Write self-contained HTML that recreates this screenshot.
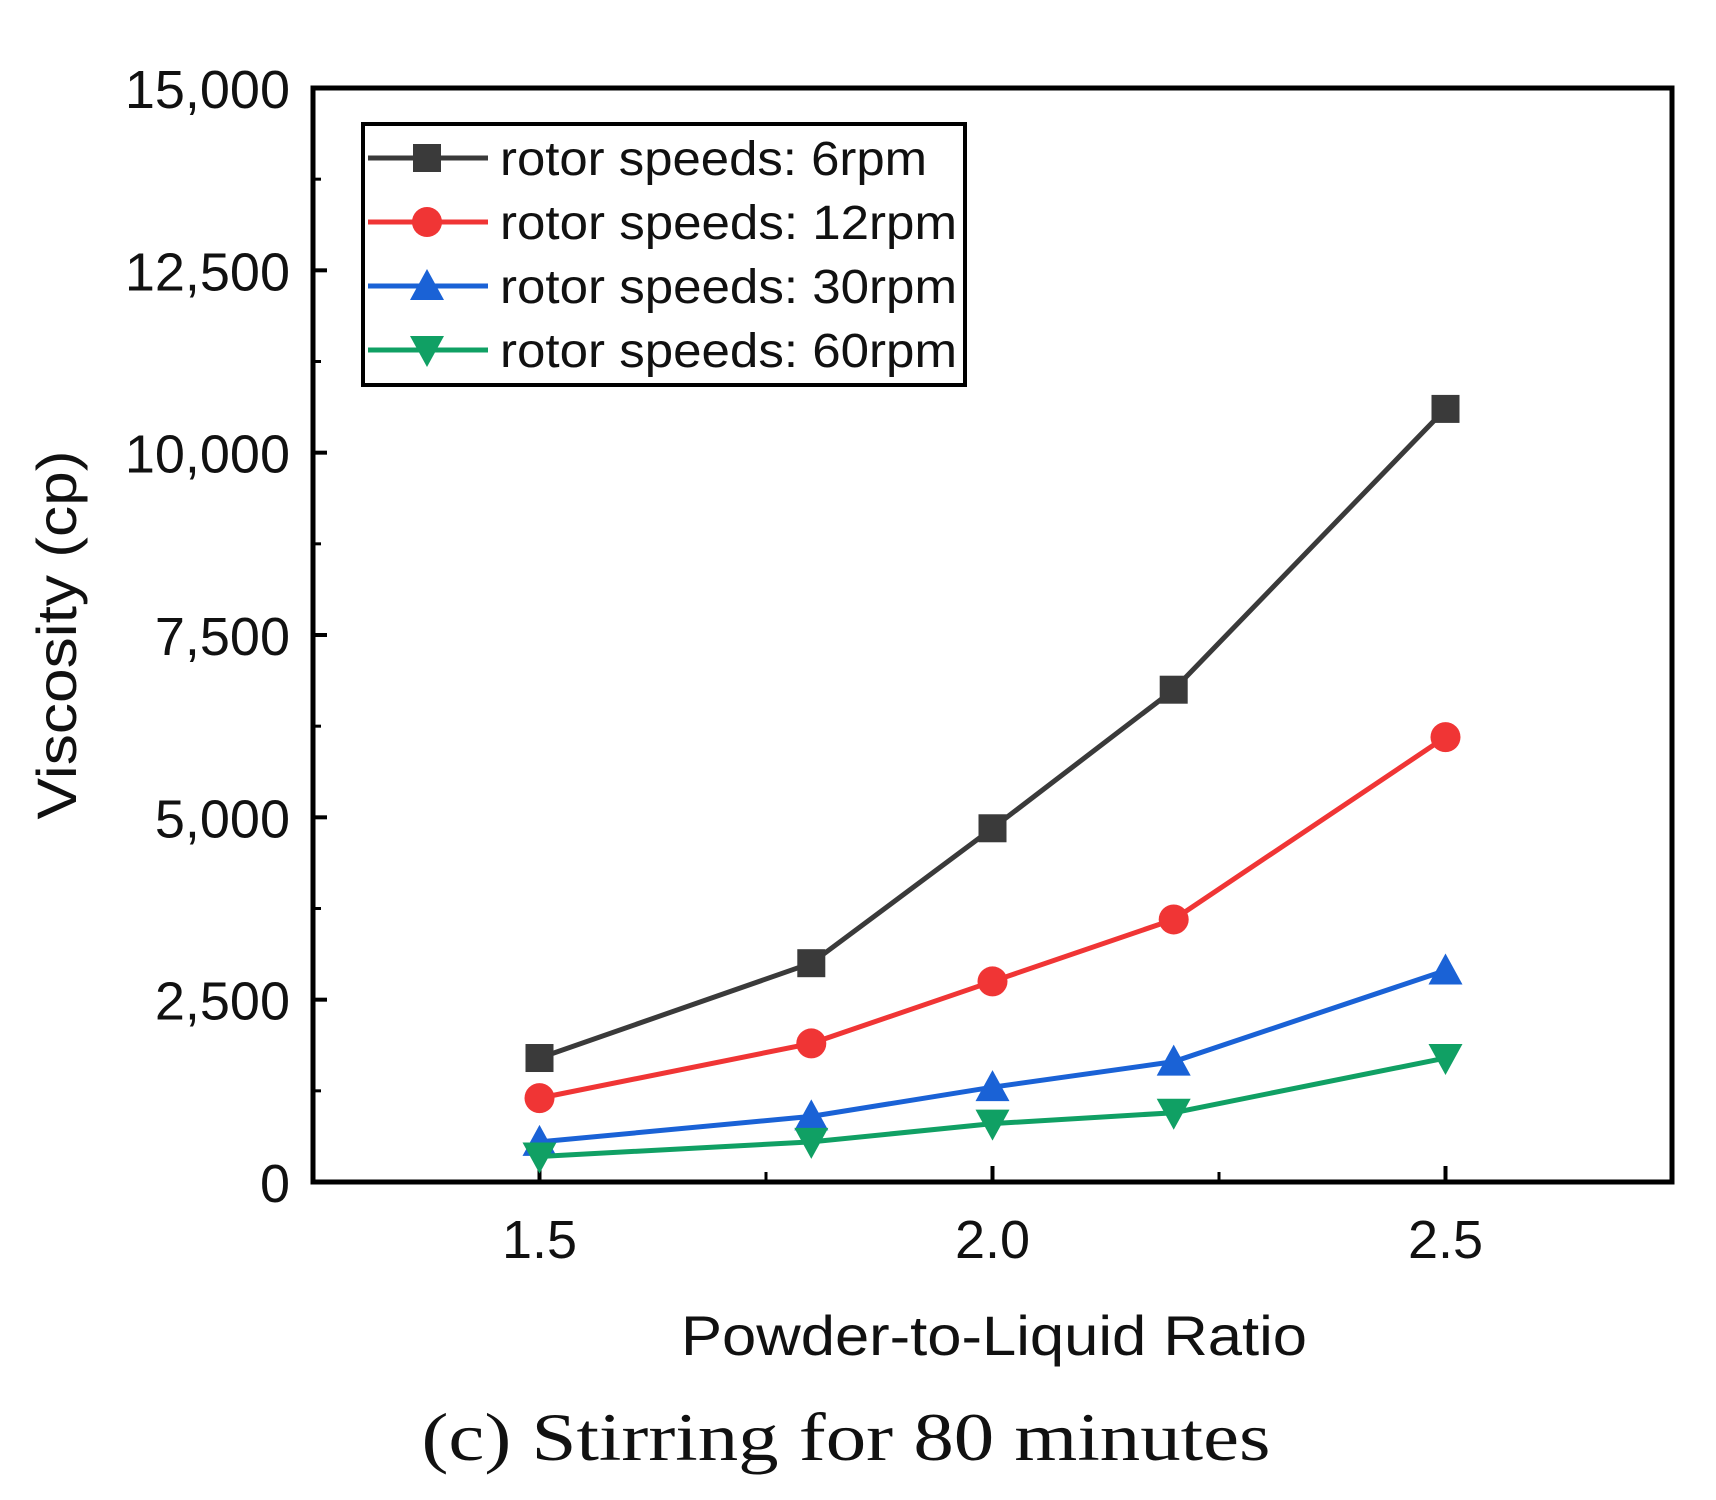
<!DOCTYPE html>
<html><head><meta charset="utf-8"><style>
body{margin:0;background:#fff;width:1716px;height:1500px;overflow:hidden}
svg{display:block}
text{font-family:"Liberation Sans",sans-serif;fill:#111}
</style></head><body>
<svg id="chart" width="1716" height="1500" viewBox="0 0 1716 1500" xmlns="http://www.w3.org/2000/svg">
<rect x="313" y="88" width="1359" height="1094" fill="none" stroke="#000" stroke-width="5"/>
<g id="ticks"></g>
<g id="series"></g>
<text x="994" y="1355" font-size="56" text-anchor="middle" textLength="626" lengthAdjust="spacingAndGlyphs">Powder-to-Liquid Ratio</text>
<text transform="translate(76,635) rotate(-90)" font-size="56" text-anchor="middle" textLength="369" lengthAdjust="spacingAndGlyphs">Viscosity (cp)</text>
<text x="846" y="1460" font-size="68" text-anchor="middle" textLength="849" lengthAdjust="spacingAndGlyphs" style="font-family:'Liberation Serif',serif">(c) Stirring for 80 minutes</text>
<rect x="363" y="124" width="602" height="261" fill="#fff" stroke="#000" stroke-width="4"/>
<g id="legend"></g>
</svg>
<script>
const xValues=[1.5,1.8,2.0,2.2,2.5];
const seriesNames=["rotor speeds: 6rpm","rotor speeds: 12rpm","rotor speeds: 30rpm","rotor speeds: 60rpm"];
const s6=[1700,3000,4850,6750,10600];
const s12=[1150,1900,2750,3600,6100];
const s30=[550,900,1300,1650,2900];
const s60=[350,550,800,950,1700];
const yTicks=[0,2500,5000,7500,10000,12500,15000];
const yTickLabels=["0","2,500","5,000","7,500","10,000","12,500","15,000"];
const xTicks=[1.5,2.0,2.5];
const xTickLabels=["1.5","2.0","2.5"];
const NS="http://www.w3.org/2000/svg";
const X=v=>313+(v-1.25)/1.5*1359;
const Y=v=>1182-v/15000*1094;
function mk(tag,attrs,parent){const e=document.createElementNS(NS,tag);for(const k in attrs)e.setAttribute(k,attrs[k]);parent.appendChild(e);return e;}
const tg=document.getElementById('ticks');
yTicks.forEach((v,i)=>{
  const t=mk('line',{x1:313,x2:327,y1:Y(v),y2:Y(v),stroke:'#000','stroke-width':4},tg);
  
  
  const l=mk('text',{x:290,y:Y(v)+20,'font-size':54,'text-anchor':'end'},tg);
  l.textContent=yTickLabels[i];
  
  
  if(i<yTicks.length-1){
    const m=mk('line',{x1:313,x2:321,y1:Y(v+1250),y2:Y(v+1250),stroke:'#000','stroke-width':3},tg);
    
    
  }
});
xTicks.forEach((v,i)=>{
  const t=mk('line',{x1:X(v),x2:X(v),y1:1182,y2:1166,stroke:'#000','stroke-width':4},tg);
  
  
  const l=mk('text',{x:X(v),y:1258,'font-size':54,'text-anchor':'middle'},tg);
  l.textContent=xTickLabels[i];
  
  
});
[1.75,2.25].forEach(v=>{
  const m=mk('line',{x1:X(v),x2:X(v),y1:1182,y2:1172,stroke:'#000','stroke-width':3},tg);
  
  
});
const colors=["#3a3a3a","#f03535","#1a62d6","#10a064"];
const shapes=["square","circle","up","down"];
const allSeries=[s6,s12,s30,s60];
function marker(shape,cx,cy,color,parent){
  const r=14;
  if(shape==='square')return mk('rect',{x:cx-r,y:cy-r,width:2*r,height:2*r,fill:color},parent);
  if(shape==='circle')return mk('circle',{cx:cx,cy:cy,r:r+1,fill:color},parent);
  if(shape==='up')return mk('polygon',{points:`${cx},${cy-r-3} ${cx-r-3},${cy+r} ${cx+r+3},${cy+r}`,fill:color},parent);
  return mk('polygon',{points:`${cx},${cy+r+3} ${cx-r-3},${cy-r} ${cx+r+3},${cy-r}`,fill:color},parent);
}
const sg=document.getElementById('series');
allSeries.forEach((data,si)=>{
  const g=mk('g',{},sg);
  
  
  const pl=mk('polyline',{points:data.map((v,i)=>X(xValues[i])+','+Y(v)).join(' '),fill:'none',stroke:colors[si],'stroke-width':5},g);
  
  
  data.forEach((v,i)=>{
    const m=marker(shapes[si],X(xValues[i]),Y(v),colors[si],g);
    
    
  });
});
const lg=document.getElementById('legend');
seriesNames.forEach((n,i)=>{
  const y=158+i*64;
  const e=mk('g',{},lg);
  
  
  mk('line',{x1:368,x2:488,y1:y,y2:y,stroke:colors[i],'stroke-width':5},e);
  marker(shapes[i],427,y,colors[i],e);
  const t=mk('text',{x:500,y:y+17,'font-size':48,textLength:(i===0?427:457),lengthAdjust:'spacingAndGlyphs'},e);
  t.textContent=n;
});
</script>
</body></html>
